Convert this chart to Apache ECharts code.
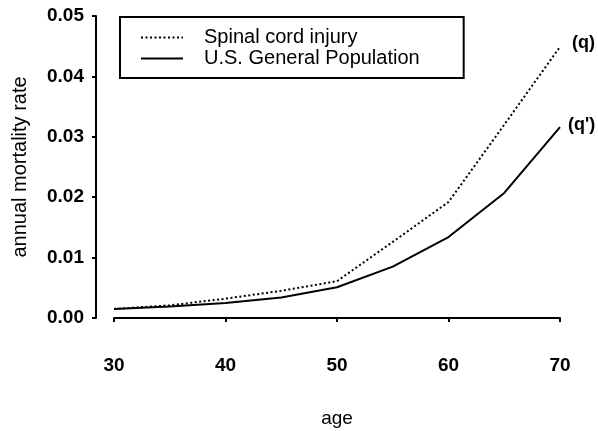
<!DOCTYPE html>
<html>
<head>
<meta charset="utf-8">
<script src="https://cdn.jsdelivr.net/npm/echarts@6/dist/echarts.min.js"></script>
<style>html,body{margin:0;padding:0;background:#fff;}#c{width:598px;height:431px;}</style>
</head>
<body>
<div id="c"></div>
<script>
const ages = [30, 35, 40, 45, 50, 55, 60, 65, 70];
const spinalCordInjury = [0.0015, 0.0021, 0.0032, 0.0045, 0.0061, 0.0126, 0.0192, 0.0320, 0.0449];
const usGeneralPopulation = [0.0015, 0.0019, 0.0025, 0.0034, 0.0051, 0.0085, 0.0134, 0.0207, 0.0316];
const seriesNames = ['Spinal cord injury', 'U.S. General Population'];
const endLabels = ['(q)', "(q')"];
const yTicks = [0, 0.01, 0.02, 0.03, 0.04, 0.05];

const FONT = '"Liberation Sans", Arial, Helvetica, sans-serif';
const chart = echarts.init(document.getElementById('c'), null, {renderer: 'canvas'});
chart.setOption({
  animation: false,
  backgroundColor: '#fff',
  textStyle: {fontFamily: FONT, color: '#000'},
  grid: {left: 114, right: 38, top: 16, bottom: 113, containLabel: false, outerBoundsMode: 'none'},
  legend: {
    orient: 'vertical', left: 120, top: 17,
    padding: [10, 44, 9, 20],
    borderColor: '#000', borderWidth: 2,
    itemWidth: 42, itemHeight: 14, itemGap: 0,
    itemStyle: {opacity: 0},
    textStyle: {fontFamily: FONT, fontSize: 20, color: '#000', lineHeight: 21, padding: [0, 0, 0, 16]},
    data: seriesNames
  },
  xAxis: {
    type: 'value', min: 30, max: 70, interval: 10, offset: 14,
    name: 'age', nameLocation: 'middle', nameGap: 77,
    nameTextStyle: {fontFamily: FONT, fontSize: 19, color: '#000'},
    axisLine: {show: true, lineStyle: {color: '#000', width: 2}},
    axisTick: {show: true, length: 4, lineStyle: {color: '#000', width: 2}},
    axisLabel: {fontFamily: FONT, fontSize: 19, fontWeight: 'bold', color: '#000', margin: 24},
    splitLine: {show: false}
  },
  yAxis: {
    type: 'value', min: 0, max: 0.05, interval: 0.01, offset: 18,
    name: 'annual mortality rate', nameLocation: 'middle', nameGap: 66,
    nameTextStyle: {fontFamily: FONT, fontSize: 20, color: '#000'},
    axisLine: {show: true, lineStyle: {color: '#000', width: 2}},
    axisTick: {show: true, length: 4, lineStyle: {color: '#000', width: 2}},
    axisLabel: {fontFamily: FONT, fontSize: 19, fontWeight: 'bold', color: '#000', margin: 12,
      formatter: v => yTicks.includes(Math.round(v*100)/100) ? v.toFixed(2) : ''},
    splitLine: {show: false}
  },
  series: [
    {
      name: seriesNames[0], type: 'line', symbol: 'none',
      data: ages.map((a, i) => [a, spinalCordInjury[i]]),
      lineStyle: {color: '#000', width: 2, type: [2, 2.5]},
      itemStyle: {color: '#000'},
      endLabel: {show: true, formatter: endLabels[0], distance: 12, offset: [0, -4],
        fontFamily: FONT, fontSize: 18, fontWeight: 'bold', color: '#000'}
    },
    {
      name: seriesNames[1], type: 'line', symbol: 'none',
      data: ages.map((a, i) => [a, usGeneralPopulation[i]]),
      lineStyle: {color: '#000', width: 2, type: 'solid'},
      itemStyle: {color: '#000'},
      endLabel: {show: true, formatter: endLabels[1], distance: 8, offset: [0, -2],
        fontFamily: FONT, fontSize: 18, fontWeight: 'bold', color: '#000'}
    }
  ]
});
</script>
</body>
</html>
